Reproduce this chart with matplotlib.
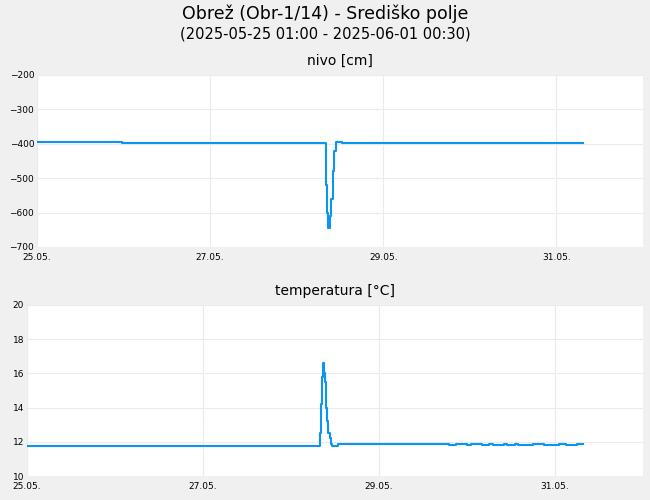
import matplotlib.pyplot as plt

# vreme v urah od 25.05. 00:00
nivo_ure = [0, 23.5, 80.0, 80.4, 80.8, 81.2, 81.6, 82.0, 82.4, 82.8, 84.5, 151.5]
nivo_cm = [-395, -398, -520, -600, -645, -610, -560, -480, -420, -395, -398, -398]

temp_ure = [0, 79.8, 80.1, 80.4, 80.7, 81.0, 81.3, 81.6, 81.9, 82.2, 82.5, 82.8,
            83.1, 83.6, 84.8, 85.5, 114, 115, 117, 118, 120, 121, 123, 124,
            126, 127, 130, 131, 133, 134, 137, 138, 141, 142, 145, 147, 150, 151.5]
temp_c = [11.75, 12.5, 14.2, 15.8, 16.6, 16.0, 15.5, 14.0, 13.2, 12.5, 12.2, 11.9,
          11.75, 11.75, 11.85, 11.9, 11.9, 11.8, 11.9, 11.9, 11.8, 11.9, 11.9, 11.8,
          11.9, 11.8, 11.9, 11.8, 11.9, 11.8, 11.8, 11.9, 11.8, 11.8, 11.9, 11.8, 11.9, 11.9]

tick_dni = [0, 2, 4, 6]
tick_oznake = ["25.05.", "27.05.", "29.05.", "31.05."]

modra = "#0a96f0"
fig = plt.figure(figsize=(6.5, 5), dpi=100, facecolor="#f0f0f0")
fig.text(0.5, 0.972, "Obrež (Obr-1/14) - Središko polje", ha="center", va="center", fontsize=12.5)
fig.text(0.5, 0.932, "(2025-05-25 01:00 - 2025-06-01 00:30)", ha="center", va="center", fontsize=10.5)

ax1 = fig.add_axes([37/650, 1-247/500, 606/650, 172/500])
ax2 = fig.add_axes([27/650, 1-476/500, 616/650, 171/500])

for ax, t, v, naslov, ylim, yt in [
    (ax1, nivo_ure, nivo_cm, "nivo [cm]", (-700, -200), range(-700, -199, 100)),
    (ax2, temp_ure, temp_c, "temperatura [°C]", (10, 20), range(10, 21, 2)),
]:
    ax.plot([x / 24 for x in t], v, color=modra, lw=1.5, drawstyle="steps-post")
    ax.set_xlim(0, 7)
    ax.set_ylim(*ylim)
    ax.set_yticks(list(yt))
    ax.set_xticks(tick_dni)
    ax.set_xticklabels(tick_oznake)
    ax.tick_params(labelsize=6.5, length=0, pad=2)
    ax.tick_params(axis="x", pad=4)
    ax.grid(True, color="#ebebeb", lw=0.8)
    for s in ax.spines.values():
        s.set_visible(False)
    ax.set_title(naslov, fontsize=10, pad=7)

fig.savefig("out.png", dpi=100, facecolor=fig.get_facecolor())
